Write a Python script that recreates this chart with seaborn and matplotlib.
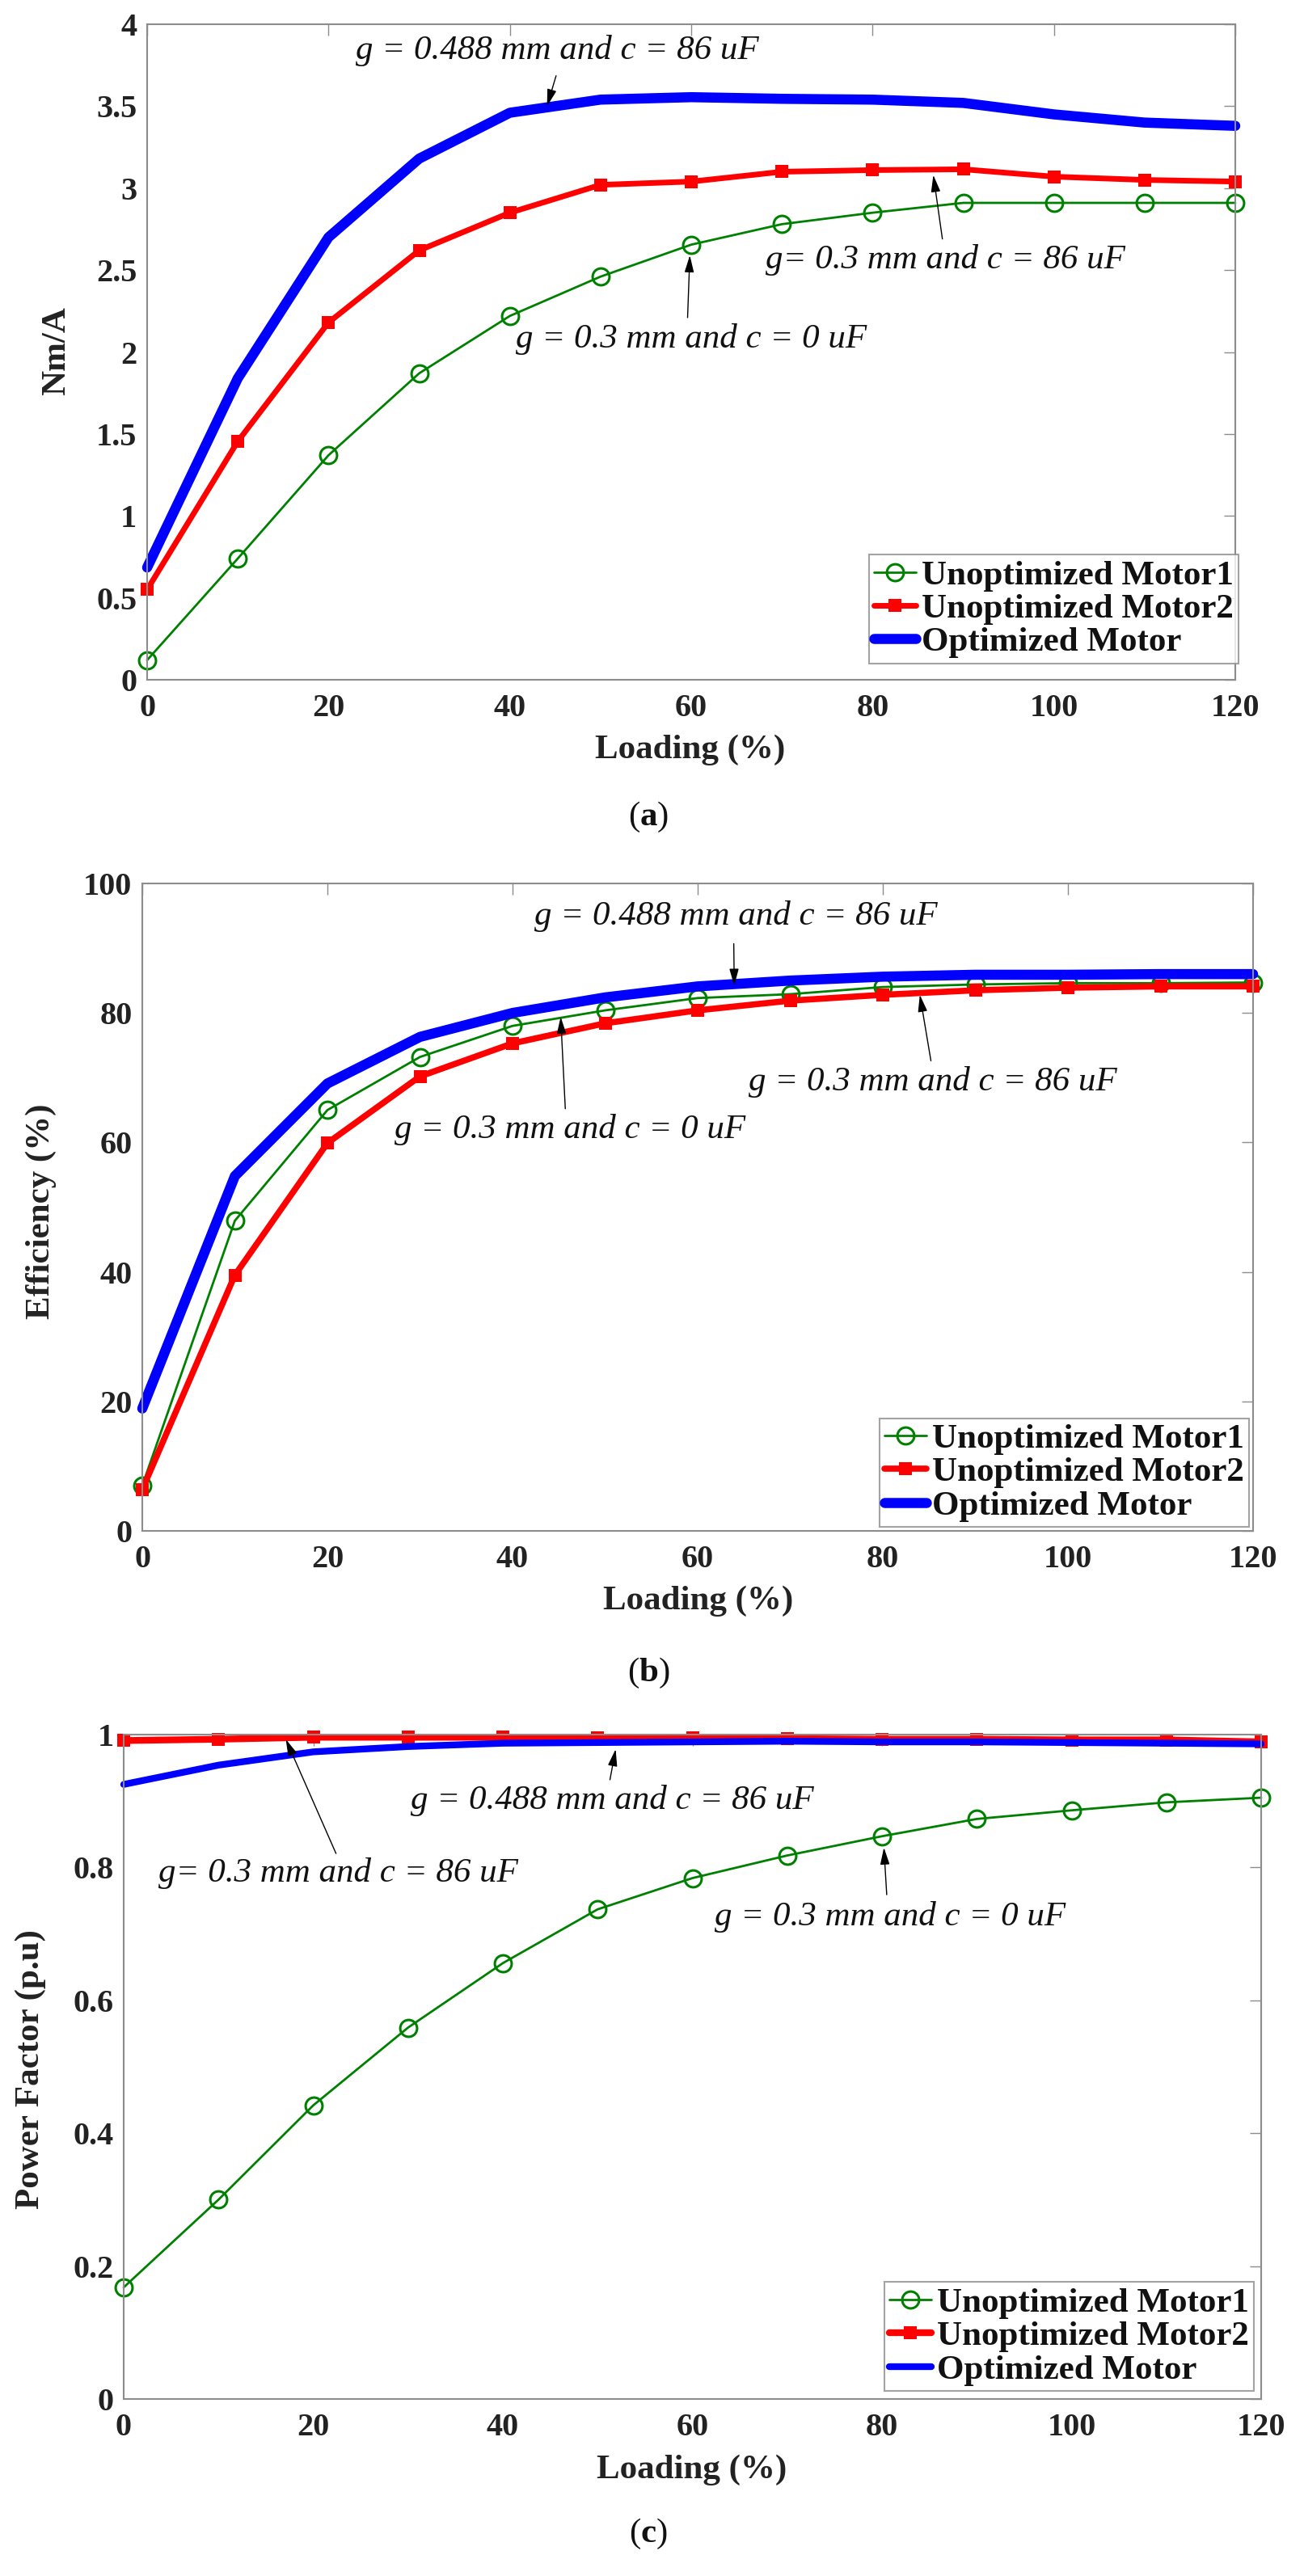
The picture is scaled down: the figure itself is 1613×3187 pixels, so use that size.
import numpy as np
import pandas as pd
import matplotlib
matplotlib.use("Agg")
import matplotlib.pyplot as plt
import seaborn as sns
from matplotlib.ticker import FuncFormatter

# data
loading = [0, 10, 20, 30, 40, 50, 60, 70, 80, 90, 100, 110, 120]

torque_m1 = [0.12, 0.74, 1.37, 1.87, 2.22, 2.46, 2.655, 2.78, 2.85, 2.91, 2.91, 2.91, 2.91]
torque_m2 = [0.55, 1.455, 2.18, 2.62, 2.85, 3.02, 3.04, 3.10, 3.11, 3.115, 3.07, 3.05, 3.04]
torque_opt = [0.685, 1.84, 2.70, 3.18, 3.46, 3.54, 3.555, 3.545, 3.54, 3.52, 3.45, 3.40, 3.38]

eff_m1 = [7.0, 47.9, 65.0, 73.2, 78.0, 80.4, 82.3, 82.9, 84.0, 84.4, 84.6, 84.6, 84.7]
eff_m2 = [6.4, 39.5, 59.9, 70.2, 75.3, 78.4, 80.4, 81.9, 82.8, 83.5, 83.9, 84.1, 84.1]
eff_opt = [18.9, 54.8, 69.1, 76.3, 80.0, 82.4, 84.1, 85.0, 85.6, 85.9, 85.9, 86.0, 86.0]

pf_m1 = [0.168, 0.300, 0.442, 0.559, 0.656, 0.737, 0.784, 0.818, 0.847, 0.873, 0.886, 0.898, 0.905]
pf_m2 = [0.991, 0.993, 0.996, 0.996, 0.996, 0.995, 0.995, 0.994, 0.993, 0.993, 0.992, 0.992, 0.989]
pf_opt = [0.925, 0.954, 0.974, 0.982, 0.987, 0.988, 0.989, 0.990, 0.989, 0.989, 0.988, 0.987, 0.986]

series_names = ["Unoptimized Motor1", "Unoptimized Motor2", "Optimized Motor"]
ylabels = ["Nm/A", "Efficiency (%)", "Power Factor (p.u)"]
panel_tags = ["a", "b", "c"]

# annotation texts: (text, text centre, arrow tail, arrow tip) in data units
notes_a = [("g = 0.488 mm and c = 86 uF", (45.2, 3.84), (45.1, 3.686), (44.1, 3.50)),
           ("g= 0.3 mm and c = 86 uF", (88.0, 2.56), (87.7, 2.69), (86.7, 3.08)),
           ("g = 0.3 mm and c = 0 uF", (60.0, 2.077), (59.6, 2.21), (59.85, 2.59))]
notes_b = [("g = 0.488 mm and c = 86 uF", (64.1, 94.9), (63.9, 90.7), (63.95, 84.2)),
           ("g = 0.3 mm and c = 86 uF", (85.4, 69.4), (85.2, 72.6), (84.0, 82.8)),
           ("g = 0.3 mm and c = 0 uF", (46.2, 62.0), (45.7, 65.2), (45.2, 79.4))]
notes_c = [("g = 0.488 mm and c = 86 uF", (51.5, 0.901), (51.3, 0.932), (51.9, 0.978)),
           ("g= 0.3 mm and c = 86 uF", (22.6, 0.791), (22.4, 0.821), (17.1, 0.993)),
           ("g = 0.3 mm and c = 0 uF", (80.9, 0.726), (80.5, 0.759), (80.2, 0.83))]

W, H = 1613, 3187
sns.set_theme(style="white")
plt.rcParams["font.family"] = ["Liberation Serif", "DejaVu Serif"]
plt.rcParams["mathtext.fontset"] = "custom"
plt.rcParams["mathtext.rm"] = "Liberation Serif"
plt.rcParams["mathtext.bf"] = "Liberation Serif:bold"

fig = plt.figure(figsize=(W / 100, H / 100), dpi=100)

# axes boxes in pixels: left, top, right, bottom
boxes = [(182, 30, 1528, 841), (176, 1093, 1550, 1894), (153, 2146, 1560, 2968)]
panels = [
    dict(ys=(torque_m1, torque_m2, torque_opt), ylim=(0, 4), yticks=np.arange(0, 4.01, 0.5),
         lw=(2.0, 5.0, 9.0), notes=notes_a, leg=(1.003, 0.025),
         xlab=(854, 928), ylab=(70, 434), tag=(802, 1011)),
    dict(ys=(eff_m1, eff_m2, eff_opt), ylim=(0, 100), yticks=np.arange(0, 101, 20),
         lw=(2.0, 5.5, 9.0), notes=notes_b, leg=(0.9964, 0.006),
         xlab=(864, 1981), ylab=(51, 1499), tag=(802, 2070)),
    dict(ys=(pf_m1, pf_m2, pf_opt), ylim=(0, 1), yticks=np.arange(0, 1.01, 0.2),
         lw=(2.0, 6.0, 6.0), notes=notes_c, leg=(0.9936, 0.012),
         xlab=(856, 3056), ylab=(38, 2560), tag=(802, 3135)),
]

fmt = FuncFormatter(lambda v, p: "%g" % round(v, 3))

for box, p, ylab, tag in zip(boxes, panels, ylabels, panel_tags):
    l, t, r, b = box
    ax = fig.add_axes([l / W, 1 - b / H, (r - l) / W, (b - t) / H])
    y1, y2, y3 = p["ys"]
    lw1, lw2, lw3 = p["lw"]
    sns.lineplot(x=loading, y=y1, ax=ax, color="#008000", linewidth=lw1, marker="o",
                 markersize=15, markerfacecolor="none", markeredgecolor="#008000",
                 markeredgewidth=2.2, label=series_names[0], clip_on=False)
    sns.lineplot(x=loading, y=y2, ax=ax, color="#ff0000", linewidth=lw2, marker="s",
                 markersize=11, markeredgewidth=0, label=series_names[1], clip_on=False)
    sns.lineplot(x=loading, y=y3, ax=ax, color="#0000ff", linewidth=lw3,
                 label=series_names[2], clip_on=False)

    ax.set_xlim(0, 120)
    ax.set_ylim(*p["ylim"])
    ax.set_xticks(np.arange(0, 121, 20))
    ax.set_yticks(p["yticks"])
    ax.yaxis.set_major_formatter(fmt)
    ax.set_xlabel("")
    ax.set_ylabel("")
    for s in ax.spines.values():
        s.set_color("#8c8c8c")
        s.set_linewidth(1.5)
    ax.tick_params(direction="in", length=10, width=1, color="#8c8c8c",
                   top=True, right=True, labelsize=29, labelcolor="#222222")
    ax.tick_params(axis="x", pad=12)
    ax.tick_params(axis="y", pad=9)
    for lab in ax.get_xticklabels() + ax.get_yticklabels():
        lab.set_fontweight("bold")

    for txt, c, tail, tip in p["notes"]:
        ax.text(c[0], c[1], txt, ha="center", va="center", fontsize=31,
                style="italic", color="#111111")
        ax.annotate("", xy=tip, xytext=tail,
                    arrowprops=dict(arrowstyle="-|>,head_length=0.8,head_width=0.22",
                                    color="black", lw=1.0, mutation_scale=16,
                                    shrinkA=0, shrinkB=0))

    leg = ax.legend(loc="lower right", bbox_to_anchor=p["leg"], borderaxespad=0,
                    frameon=True, fancybox=False, handlelength=1.2,
                    handletextpad=0.15, labelspacing=0.05, borderpad=0.15,
                    prop={"weight": "bold", "size": 31})
    leg.get_frame().set_edgecolor("#8c8c8c")
    leg.get_frame().set_linewidth(1.5)
    for txt in leg.get_texts():
        txt.set_color("#111111")

    fig.text(p["xlab"][0] / W, 1 - p["xlab"][1] / H, "Loading (%)", ha="center",
             va="center", fontsize=31, fontweight="bold", color="#222222")
    fig.text(p["ylab"][0] / W, 1 - p["ylab"][1] / H, ylab, ha="center", va="center",
             rotation=90, fontsize=31, fontweight="bold", color="#222222")
    fig.text(p["tag"][0] / W, 1 - p["tag"][1] / H, "($\\mathbf{" + tag + "}$)",
             ha="center", va="center", fontsize=31, color="#111111")

fig.savefig("out.png", dpi=100)
